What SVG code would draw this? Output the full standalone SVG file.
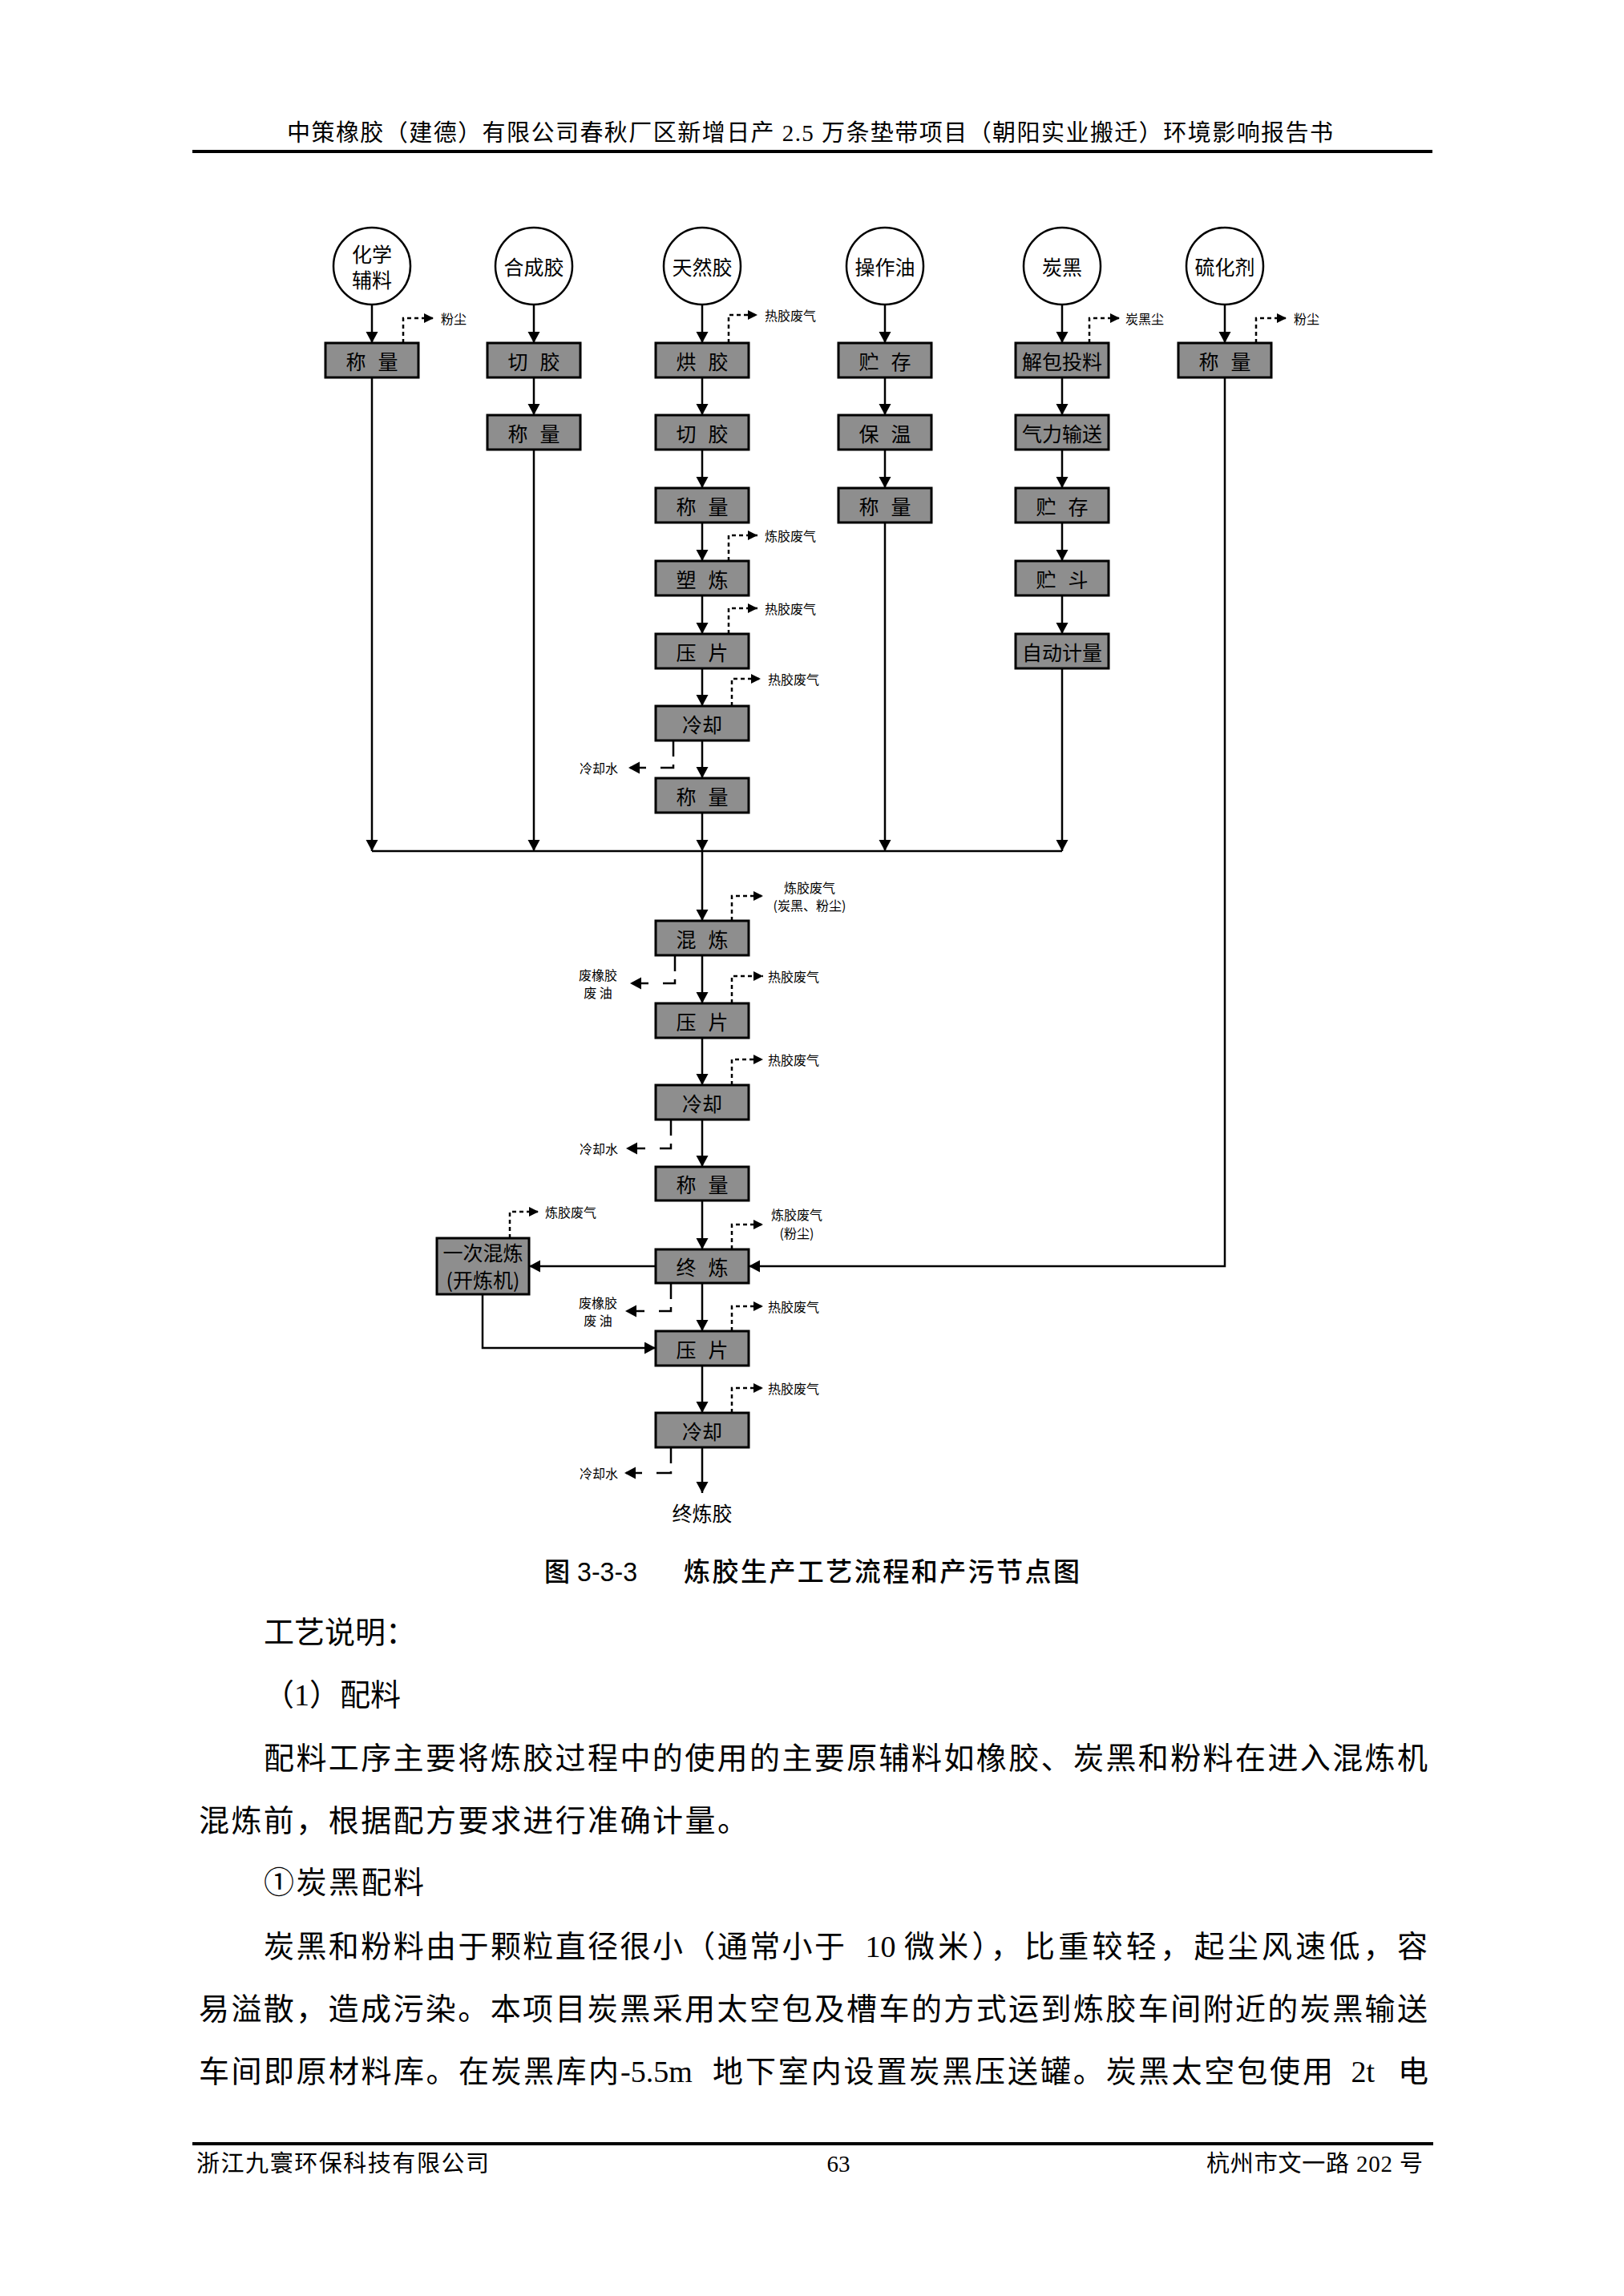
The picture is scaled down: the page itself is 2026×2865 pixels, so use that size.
<svg xmlns="http://www.w3.org/2000/svg" width="2026" height="2865" viewBox="0 0 2026 2865">
<style>
.pg{fill:#fff}
.rule{fill:#000}
.hd{font-family:"Liberation Serif","Noto Sans CJK SC",serif;font-size:29px;fill:#000}
.body{font-family:"Liberation Serif","Noto Sans CJK SC",serif;font-size:38px;fill:#000}
.cap{font-family:"Liberation Sans","Noto Sans CJK SC",sans-serif;font-size:33px;font-weight:500;fill:#000}
.circ{fill:#fff;stroke:#000;stroke-width:2.5}
.box{fill:#8e8e8e;stroke:#000;stroke-width:3}
.bt{font-family:"Noto Sans CJK SC",sans-serif;font-size:25px;fill:#000;dominant-baseline:central}
.lb{font-family:"Noto Sans CJK SC",sans-serif;font-size:16px;fill:#000;dominant-baseline:central}
.fl{fill:none;stroke:#000;stroke-width:2.5;marker-end:url(#ah)}
.ln{fill:none;stroke:#000;stroke-width:2.5}
.em{fill:none;stroke:#000;stroke-width:2.5;stroke-dasharray:5 4;marker-end:url(#ahs)}
.ws{fill:none;stroke:#000;stroke-width:2.5;stroke-dasharray:20 10 20 18;marker-end:url(#ah)}
</style>
<defs>
<marker id="ah" markerUnits="userSpaceOnUse" markerWidth="16" markerHeight="16" refX="14" refY="7.5" orient="auto"><path d="M0,0 L14,7.5 L0,15 z" fill="#000"/></marker>
<marker id="ahs" markerUnits="userSpaceOnUse" markerWidth="14" markerHeight="14" refX="12" refY="6" orient="auto"><path d="M0,0 L12,6 L0,12 z" fill="#000"/></marker>
</defs>
<rect class="pg" x="0" y="0" width="2026" height="2865"/>

<g id="header">
<text class="hd" x="358" y="176" textLength="1305" lengthAdjust="spacing">中策橡胶（建德）有限公司春秋厂区新增日产 2.5 万条垫带项目（朝阳实业搬迁）环境影响报告书</text>
<rect class="rule" x="240" y="187" width="1547" height="4"/>
</g>

<g id="connectors">
<path class="fl" d="M464,380 V428"/>
<path class="fl" d="M464,471 V1062"/>
<path class="fl" d="M666,380 V428"/>
<path class="fl" d="M666,471 V518"/>
<path class="fl" d="M666,561 V1062"/>
<path class="fl" d="M876,380 V428"/>
<path class="fl" d="M876,471 V518"/>
<path class="fl" d="M876,561 V609"/>
<path class="fl" d="M876,652 V700"/>
<path class="fl" d="M876,743 V791"/>
<path class="fl" d="M876,834 V881"/>
<path class="fl" d="M876,924 V971"/>
<path class="fl" d="M876,1014 V1062"/>
<path class="fl" d="M1104,380 V428"/>
<path class="fl" d="M1104,471 V518"/>
<path class="fl" d="M1104,561 V609"/>
<path class="fl" d="M1104,652 V1062"/>
<path class="fl" d="M1325,380 V428"/>
<path class="fl" d="M1325,471 V518"/>
<path class="fl" d="M1325,561 V609"/>
<path class="fl" d="M1325,652 V700"/>
<path class="fl" d="M1325,743 V791"/>
<path class="fl" d="M1325,834 V1062"/>
<path class="fl" d="M1528,380 V428"/>
<path class="fl" d="M1528,471 V1580 H934"/>
<path class="ln" d="M464,1062 H1325"/>
<path class="fl" d="M876,1062 V1149"/>
<path class="fl" d="M876,1192 V1252"/>
<path class="fl" d="M876,1295 V1354"/>
<path class="fl" d="M876,1397 V1456"/>
<path class="fl" d="M876,1498 V1559"/>
<path class="fl" d="M876,1601 V1661"/>
<path class="fl" d="M876,1704 V1763"/>
<path class="fl" d="M876,1806 V1863"/>
<path class="fl" d="M818,1580 H660"/>
<path class="fl" d="M602,1615 V1682 H818"/>

<path class="em" d="M503,428 V397 H541"/>
<path class="em" d="M909,428 V393 H945"/>
<path class="em" d="M909,700 V668 H945"/>
<path class="em" d="M909,791 V759 H945"/>
<path class="em" d="M913,881 V847 H949"/>
<path class="em" d="M1359,428 V397 H1397"/>
<path class="em" d="M1567,428 V397 H1605"/>
<path class="em" d="M913,1149 V1118 H952"/>
<path class="em" d="M913,1252 V1218 H952"/>
<path class="em" d="M913,1354 V1322 H952"/>
<path class="em" d="M913,1559 V1528 H952"/>
<path class="em" d="M913,1661 V1630 H952"/>
<path class="em" d="M913,1763 V1732 H952"/>
<path class="em" d="M636,1545 V1512 H672"/>

<path class="ws" d="M840,924 V958 H784"/>
<path class="ws" d="M842,1192 V1227 H786"/>
<path class="ws" d="M837,1397 V1433 H781"/>
<path class="ws" d="M837,1601 V1636 H780"/>
<path class="ws" d="M837,1806 V1838 H779"/>
</g>

<g id="labels">
<text class="lb" x="550" y="397">粉尘</text>
<text class="lb" x="954" y="393">热胶废气</text>
<text class="lb" x="954" y="668">炼胶废气</text>
<text class="lb" x="954" y="759">热胶废气</text>
<text class="lb" x="958" y="847">热胶废气</text>
<text class="lb" x="1404" y="397">炭黑尘</text>
<text class="lb" x="1614" y="397">粉尘</text>
<text class="lb" x="771" y="958" text-anchor="end">冷却水</text>
<text class="lb" x="1010" y="1107" text-anchor="middle">炼胶废气</text>
<text class="lb" x="1010" y="1129" text-anchor="middle">(炭黑、粉尘)</text>
<text class="lb" x="746" y="1216" text-anchor="middle">废橡胶</text>
<text class="lb" x="746" y="1238" text-anchor="middle">废  油</text>
<text class="lb" x="958" y="1218">热胶废气</text>
<text class="lb" x="958" y="1322">热胶废气</text>
<text class="lb" x="771" y="1433" text-anchor="end">冷却水</text>
<text class="lb" x="994" y="1515" text-anchor="middle">炼胶废气</text>
<text class="lb" x="994" y="1538" text-anchor="middle">(粉尘)</text>
<text class="lb" x="680" y="1512">炼胶废气</text>
<text class="lb" x="746" y="1625" text-anchor="middle">废橡胶</text>
<text class="lb" x="746" y="1647" text-anchor="middle">废  油</text>
<text class="lb" x="958" y="1630">热胶废气</text>
<text class="lb" x="958" y="1732">热胶废气</text>
<text class="lb" x="771" y="1838" text-anchor="end">冷却水</text>
</g>

<g id="n-huaxue"><ellipse class="circ" cx="464" cy="332" rx="48" ry="48"/><text class="bt" x="464" y="316" text-anchor="middle">化学</text><text class="bt" x="464" y="348" text-anchor="middle">辅料</text></g>
<g id="n-hechengjiao"><ellipse class="circ" cx="666" cy="332" rx="48" ry="48"/><text class="bt" x="666" y="332" text-anchor="middle">合成胶</text></g>
<g id="n-tianranjiao"><ellipse class="circ" cx="876" cy="332" rx="48" ry="48"/><text class="bt" x="876" y="332" text-anchor="middle">天然胶</text></g>
<g id="n-caozuoyou"><ellipse class="circ" cx="1104" cy="332" rx="48" ry="48"/><text class="bt" x="1104" y="332" text-anchor="middle">操作油</text></g>
<g id="n-tanhei"><ellipse class="circ" cx="1325" cy="332" rx="48" ry="48"/><text class="bt" x="1325" y="332" text-anchor="middle">炭黑</text></g>
<g id="n-liuhuaji"><ellipse class="circ" cx="1528" cy="332" rx="48" ry="48"/><text class="bt" x="1528" y="332" text-anchor="middle">硫化剂</text></g>

<g id="n-c1-chengliang"><rect class="box" x="406" y="428" width="116" height="43"/><text class="bt" x="431.5" y="449.5" textLength="65" lengthAdjust="spacing">称 量</text></g>
<g id="n-c2-qiejiao"><rect class="box" x="608" y="428" width="116" height="43"/><text class="bt" x="633.5" y="449.5" textLength="65" lengthAdjust="spacing">切 胶</text></g>
<g id="n-c2-chengliang"><rect class="box" x="608" y="518" width="116" height="43"/><text class="bt" x="633.5" y="539.5" textLength="65" lengthAdjust="spacing">称 量</text></g>
<g id="n-c3-hongjiao"><rect class="box" x="818" y="428" width="116" height="43"/><text class="bt" x="843.5" y="449.5" textLength="65" lengthAdjust="spacing">烘 胶</text></g>
<g id="n-c3-qiejiao"><rect class="box" x="818" y="518" width="116" height="43"/><text class="bt" x="843.5" y="539.5" textLength="65" lengthAdjust="spacing">切 胶</text></g>
<g id="n-c3-chengliang1"><rect class="box" x="818" y="609" width="116" height="43"/><text class="bt" x="843.5" y="630.5" textLength="65" lengthAdjust="spacing">称 量</text></g>
<g id="n-c3-sulian"><rect class="box" x="818" y="700" width="116" height="43"/><text class="bt" x="843.5" y="721.5" textLength="65" lengthAdjust="spacing">塑 炼</text></g>
<g id="n-c3-yapian"><rect class="box" x="818" y="791" width="116" height="43"/><text class="bt" x="843.5" y="812.5" textLength="65" lengthAdjust="spacing">压 片</text></g>
<g id="n-c3-lengque"><rect class="box" x="818" y="881" width="116" height="43"/><text class="bt" x="876" y="902.5" text-anchor="middle">冷却</text></g>
<g id="n-c3-chengliang2"><rect class="box" x="818" y="971" width="116" height="43"/><text class="bt" x="843.5" y="992.5" textLength="65" lengthAdjust="spacing">称 量</text></g>
<g id="n-c4-zhucun"><rect class="box" x="1046" y="428" width="116" height="43"/><text class="bt" x="1071.5" y="449.5" textLength="65" lengthAdjust="spacing">贮 存</text></g>
<g id="n-c4-baowen"><rect class="box" x="1046" y="518" width="116" height="43"/><text class="bt" x="1071.5" y="539.5" textLength="65" lengthAdjust="spacing">保 温</text></g>
<g id="n-c4-chengliang"><rect class="box" x="1046" y="609" width="116" height="43"/><text class="bt" x="1071.5" y="630.5" textLength="65" lengthAdjust="spacing">称 量</text></g>
<g id="n-c5-jiebao"><rect class="box" x="1267" y="428" width="116" height="43"/><text class="bt" x="1325" y="449.5" text-anchor="middle">解包投料</text></g>
<g id="n-c5-qili"><rect class="box" x="1267" y="518" width="116" height="43"/><text class="bt" x="1325" y="539.5" text-anchor="middle">气力输送</text></g>
<g id="n-c5-zhucun"><rect class="box" x="1267" y="609" width="116" height="43"/><text class="bt" x="1292.5" y="630.5" textLength="65" lengthAdjust="spacing">贮 存</text></g>
<g id="n-c5-zhudou"><rect class="box" x="1267" y="700" width="116" height="43"/><text class="bt" x="1292.5" y="721.5" textLength="65" lengthAdjust="spacing">贮 斗</text></g>
<g id="n-c5-zidong"><rect class="box" x="1267" y="791" width="116" height="43"/><text class="bt" x="1325" y="812.5" text-anchor="middle">自动计量</text></g>
<g id="n-c6-chengliang"><rect class="box" x="1470" y="428" width="116" height="43"/><text class="bt" x="1495.5" y="449.5" textLength="65" lengthAdjust="spacing">称 量</text></g>

<g id="n-hunlian"><rect class="box" x="818" y="1149" width="116" height="43"/><text class="bt" x="843.5" y="1170.5" textLength="65" lengthAdjust="spacing">混 炼</text></g>
<g id="n-yapian2"><rect class="box" x="818" y="1252" width="116" height="43"/><text class="bt" x="843.5" y="1273.5" textLength="65" lengthAdjust="spacing">压 片</text></g>
<g id="n-lengque2"><rect class="box" x="818" y="1354" width="116" height="43"/><text class="bt" x="876" y="1375.5" text-anchor="middle">冷却</text></g>
<g id="n-chengliang3"><rect class="box" x="818" y="1456" width="116" height="42"/><text class="bt" x="843.5" y="1477" textLength="65" lengthAdjust="spacing">称 量</text></g>
<g id="n-zhonglian"><rect class="box" x="818" y="1559" width="116" height="42"/><text class="bt" x="843.5" y="1580" textLength="65" lengthAdjust="spacing">终 炼</text></g>
<g id="n-yapian3"><rect class="box" x="818" y="1661" width="116" height="43"/><text class="bt" x="843.5" y="1682.5" textLength="65" lengthAdjust="spacing">压 片</text></g>
<g id="n-lengque3"><rect class="box" x="818" y="1763" width="116" height="43"/><text class="bt" x="876" y="1784.5" text-anchor="middle">冷却</text></g>
<g id="n-yicihunlian"><rect class="box" x="545" y="1545" width="115" height="70"/><text class="bt" x="602.5" y="1562" text-anchor="middle">一次混炼</text><text class="bt" x="602.5" y="1596" text-anchor="middle">(开炼机)</text></g>
<g id="n-zhonglianjiao"><text class="bt" x="876" y="1887" text-anchor="middle" font-size="26">终炼胶</text></g>

<g id="caption">
<text class="cap" x="679" y="1973" textLength="116" lengthAdjust="spacingAndGlyphs">图 3-3-3</text>
<text class="cap" x="853" y="1973" textLength="494" lengthAdjust="spacing">炼胶生产工艺流程和产污节点图</text>
</g>

<g id="body">
<text class="body" x="329" y="2050">工艺说明：</text>
<text class="body" x="329" y="2128">（1）配料</text>
<text class="body" x="329" y="2207" textLength="1452" lengthAdjust="spacing">配料工序主要将炼胶过程中的使用的主要原辅料如橡胶、炭黑和粉料在进入混炼机</text>
<text class="body" x="248" y="2285" textLength="685" lengthAdjust="spacing">混炼前，根据配方要求进行准确计量。</text>
<text class="body" x="329" y="2362" textLength="200" lengthAdjust="spacing">①炭黑配料</text>
<text class="body" y="2442"><tspan x="329" textLength="725" lengthAdjust="spacing">炭黑和粉料由于颗粒直径很小（通常小于</tspan><tspan x="1070"> 10 </tspan><tspan x="1128" textLength="653" lengthAdjust="spacing">微米），比重较轻，起尘风速低，容</tspan></text>
<text class="body" x="248" y="2520" textLength="1533" lengthAdjust="spacing">易溢散，造成污染。本项目炭黑采用太空包及槽车的方式运到炼胶车间附近的炭黑输送</text>
<text class="body" y="2598"><tspan x="248" textLength="524" lengthAdjust="spacing">车间即原材料库。在炭黑库内</tspan><tspan x="774">-5.5m </tspan><tspan x="889" textLength="774" lengthAdjust="spacing">地下室内设置炭黑压送罐。炭黑太空包使用</tspan><tspan x="1676"> 2t </tspan><tspan x="1744">电</tspan></text>
</g>

<g id="footer">
<rect class="rule" x="240" y="2673" width="1548" height="4"/>
<text class="hd" x="245" y="2710" textLength="365" lengthAdjust="spacing">浙江九寰环保科技有限公司</text>
<text class="hd" x="1046" y="2710" text-anchor="middle">63</text>
<text class="hd" x="1505" y="2710" textLength="270" lengthAdjust="spacing">杭州市文一路 202 号</text>
</g>
</svg>
